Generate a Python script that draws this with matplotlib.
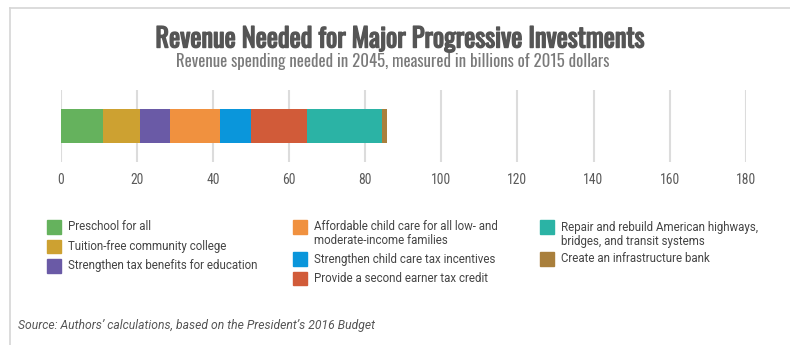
import matplotlib
matplotlib.use("Agg")
import matplotlib.pyplot as plt
from matplotlib.patches import Rectangle
from matplotlib.lines import Line2D
import matplotlib.patheffects as pe

categories = [
    "Preschool for all",
    "Tuition-free community college",
    "Strengthen tax benefits for education",
    "Affordable child care for all low- and\nmoderate-income families",
    "Strengthen child care tax incentives",
    "Provide a second earner tax credit",
    "Repair and rebuild American highways,\nbridges, and transit systems",
    "Create an infrastructure bank",
]
values = [11.1, 9.6, 7.9, 13.2, 8.1, 14.9, 19.5, 1.4]
colors = ["#65b25d", "#cda131", "#6a5aa6", "#f0913f", "#0a96db", "#d15b39", "#2bb3a5", "#a97f3c"]
xticks = [0, 20, 40, 60, 80, 100, 120, 140, 160, 180]

title = "Revenue Needed for Major Progressive Investments"
subtitle = "Revenue spending needed in 2045, measured in billions of 2015 dollars"
source = "Source: Authors\u2019 calculations, based on the President\u2019s 2016 Budget"

W, H = 790, 345
fig = plt.figure(figsize=(W / 100, H / 100), dpi=100)
fig.patch.set_facecolor("white")

def fx(px):
    return px / W

def fy(py):
    return 1 - py / H

# border
fig.add_artist(Line2D([fx(10), fx(10)], [fy(8), 0], color="#d6d6d6", lw=1.2))
fig.add_artist(Line2D([fx(10), 1], [fy(8), fy(8)], color="#d6d6d6", lw=1.2))

oswald = ["Oswald", "DejaVu Sans"]
t = fig.text(fx(400), fy(39), title, ha="center", va="center", fontsize=19,
             color="#555555", family=oswald)
t.set_path_effects([pe.withStroke(linewidth=1.0, foreground="#555555")])
fig.text(fx(393), fy(61), subtitle, ha="center", va="center", fontsize=12.1,
         color="#7a7a7a", family=oswald)

ax = fig.add_axes([fx(61), fy(162), fx(745.7) - fx(61), (162 - 90) / H])
left = 0
for v, c in zip(values, colors):
    ax.barh(0, v, left=left, height=0.917, color=c, zorder=3)
    left += v
ax.set_xlim(0, 180)
ax.set_ylim(-1, 1)
ax.set_xticks(xticks)
ax.set_xticklabels([str(t) for t in xticks], family=["Roboto Condensed", "DejaVu Sans"],
                   fontsize=9.8, color="#5a5a5a")
ax.set_yticks([])
ax.tick_params(axis="x", length=0, pad=8)
for s in ax.spines.values():
    s.set_visible(False)
ax.grid(axis="x", color="#dcdcdc", lw=1.5, zorder=0)

# legend (manual, 3 columns)
col_x = [47, 293, 540]
col_items = [[0, 1, 2], [3, 4, 5], [6, 7]]
start_y = 227
for cx, items in zip(col_x, col_items):
    y = start_y
    for i in items:
        fig.add_artist(Rectangle((fx(cx), fy(y + 6.5)), fx(14), 13.5 / H, color=colors[i],
                                 transform=fig.transFigure))
        lines = categories[i].split("\n")
        for k, line in enumerate(lines):
            fig.text(fx(cx + 21), fy(y + 14 * k), line, ha="left", va="center",
                     fontsize=8.3, color="#444444", family=["Roboto", "DejaVu Sans"])
        y += 19.5 if len(lines) == 1 else 32

fig.text(fx(18), fy(326), source, ha="left", va="center", fontsize=8.7, style="italic",
         color="#555555", family=["Roboto", "DejaVu Sans"])

fig.savefig("out.png", dpi=100, facecolor="white")
